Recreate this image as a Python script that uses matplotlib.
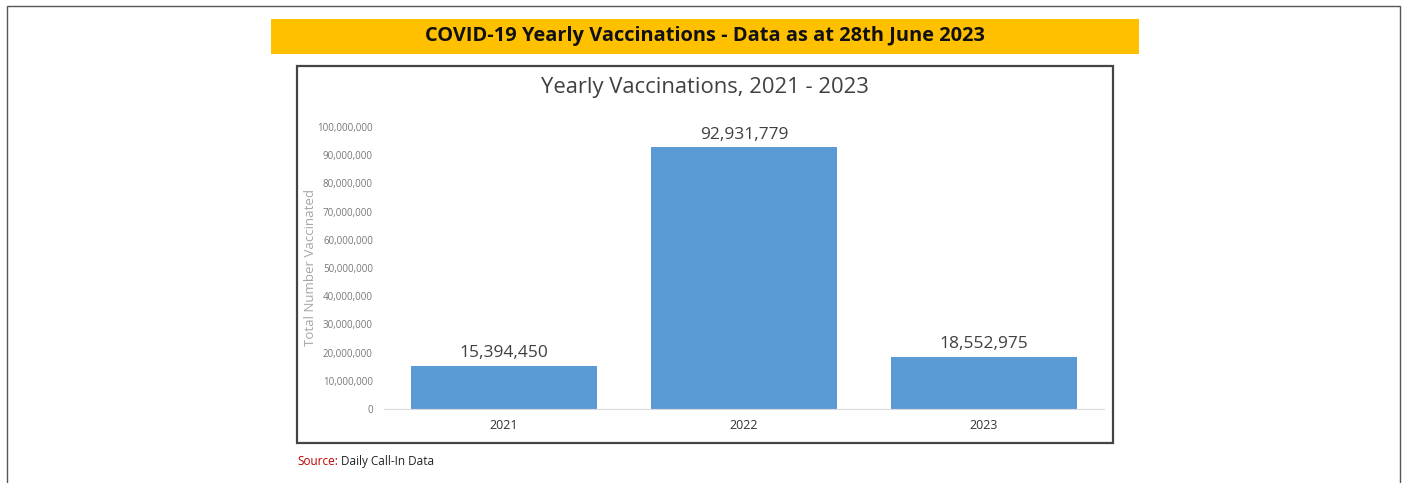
import numpy as np
import matplotlib.pyplot as plt
from matplotlib.patches import Rectangle
from matplotlib.ticker import FuncFormatter

years = ["2021", "2022", "2023"]
vaccinated = [15394450, 92931779, 18552975]
bar_labels = ["15,394,450", "92,931,779", "18,552,975"]

W, H = 1404, 483
fig = plt.figure(figsize=(W / 100, H / 100), dpi=100)
fig.patch.set_facecolor("white")


def fx(px):
    return px / W


def fy(py):
    return 1 - py / H


# outer page border (runs off the bottom)
fig.add_artist(Rectangle((fx(7), fy(490)), fx(1400) - fx(7), fy(6) - fy(490),
                         transform=fig.transFigure, fill=False,
                         edgecolor="#555555", linewidth=1.0))

# yellow banner
fig.add_artist(Rectangle((fx(271), fy(54)), fx(1139) - fx(271), fy(19) - fy(54),
                         transform=fig.transFigure, facecolor="#FFC000",
                         edgecolor="none"))
fig.text(fx(705), fy(36.5), "COVID-19 Yearly Vaccinations - Data as at 28th June 2023",
         ha="center", va="center", fontsize=14.4, fontweight="bold",
         family="Open Sans", color="#111111")

# chart box
fig.add_artist(Rectangle((fx(297), fy(443)), fx(1113) - fx(297), fy(66) - fy(443),
                         transform=fig.transFigure, fill=False,
                         edgecolor="#444444", linewidth=1.6))
fig.text(fx(705), fy(88), "Yearly Vaccinations, 2021 - 2023",
         ha="center", va="center", fontsize=15.8, family="Open Sans",
         color="#404040")

ax = fig.add_axes([fx(384), fy(409), fx(1104) - fx(384), fy(127) - fy(409)])
x = np.arange(len(years))
ax.bar(x, vaccinated, width=0.775, color="#5B9BD5")
for xi, v, lab in zip(x, vaccinated, bar_labels):
    ax.text(xi, v + 1.5e6, lab, ha="center", va="bottom", fontsize=12.5,
            family="Open Sans", color="#404040")

ax.set_xlim(-0.5, 2.5)
ax.set_ylim(0, 100e6)
ax.set_yticks(np.arange(0, 100e6 + 1, 10e6))
ax.yaxis.set_major_formatter(FuncFormatter(lambda v, p: f"{int(v):,}"))
ax.set_xticks(x)
ax.set_xticklabels(years)
ax.tick_params(axis="y", length=0, labelsize=7, labelcolor="#777777", pad=8)
ax.tick_params(axis="x", length=0, labelsize=9, labelcolor="#333333", pad=7)
for lab in ax.get_yticklabels() + ax.get_xticklabels():
    lab.set_family("Open Sans")
for s in ["top", "right", "left"]:
    ax.spines[s].set_visible(False)
ax.spines["bottom"].set_color("#D9D9D9")
ax.set_facecolor("none")

fig.text(fx(310), fy(268), "Total Number Vaccinated", rotation=90,
         ha="center", va="center", fontsize=9.5, family="Open Sans",
         color="#A6A6A6")

# source line
t = fig.text(fx(297), fy(465), "Source:", ha="left", va="baseline", fontsize=8.5,
             family="Open Sans", color="#C00000")
fig.canvas.draw()
bb = t.get_window_extent()
fig.text(bb.x1 / W + fx(3), fy(465), "Daily Call-In Data", ha="left", va="baseline",
         fontsize=8.5, family="Open Sans", color="#222222")

fig.savefig("out.png", dpi=100)
